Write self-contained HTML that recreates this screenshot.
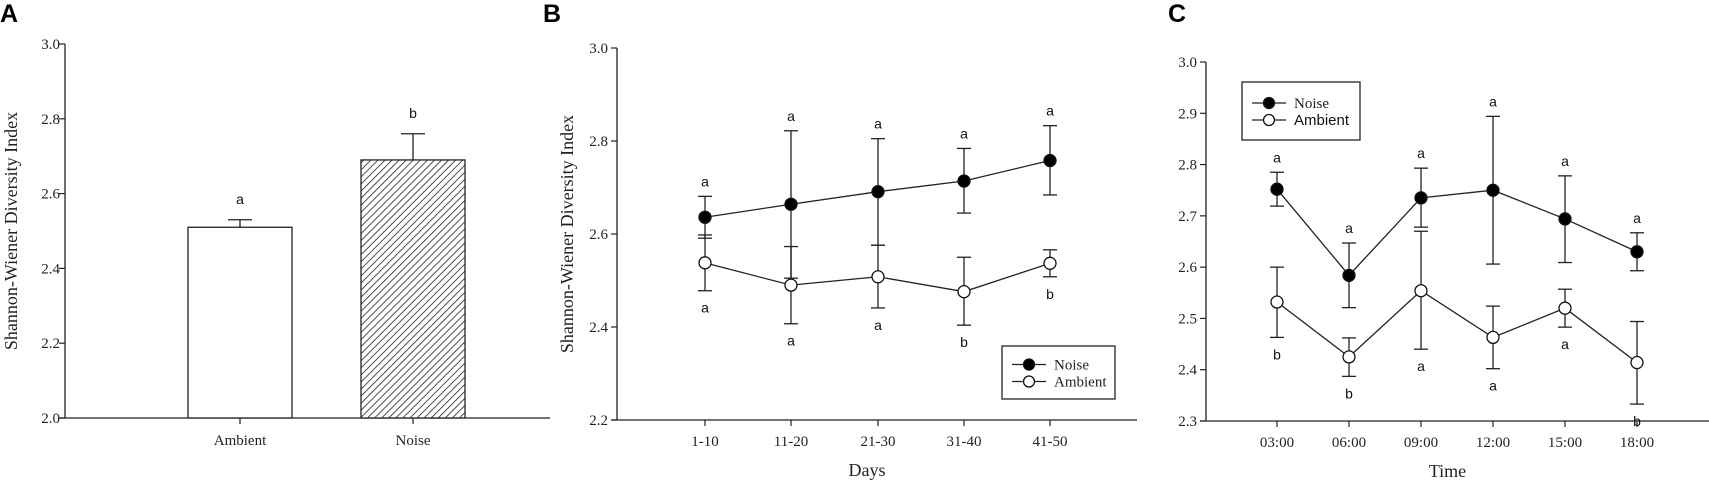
<!DOCTYPE html>
<html><head><meta charset="utf-8">
<style>
html,body{margin:0;padding:0;background:#fff;}
svg{display:block;}
.tk{font-family:"Liberation Serif",serif;font-size:15px;fill:#222;}
.tt{font-family:"Liberation Serif",serif;font-size:18px;fill:#222;}
.lt{font-family:"Liberation Sans",sans-serif;font-size:14px;fill:#111;}
.pl{font-family:"Liberation Sans",sans-serif;font-size:25px;font-weight:bold;fill:#000;}
</style></head>
<body>
<svg id="fig" width="1709" height="484" viewBox="0 0 1709 484" xmlns="http://www.w3.org/2000/svg">
<defs>
<pattern id="hatch" patternUnits="userSpaceOnUse" width="5" height="5" patternTransform="rotate(45)">
<rect width="5" height="5" fill="#fff"/><line x1="0" y1="0" x2="0" y2="5" stroke="#222" stroke-width="1.6"/>
</pattern>
</defs>
</svg>
<script>
// Panel A
const aCats = ["Ambient","Noise"];
const aVals = [2.51, 2.69];
const aErr = [2.53, 2.76];
const aLetters = ["a","b"];
const aTicks = ["2.0","2.2","2.4","2.6","2.8","3.0"];
// Panel B
const bCats = ["1-10","11-20","21-30","31-40","41-50"];
const bNoise = [2.636, 2.664, 2.691, 2.714, 2.758];
const bNoiseLo = [2.591, 2.505, 2.576, 2.645, 2.684];
const bNoiseHi = [2.681, 2.822, 2.805, 2.784, 2.833];
const bAmb = [2.538, 2.490, 2.508, 2.476, 2.537];
const bAmbLo = [2.478, 2.407, 2.441, 2.404, 2.508];
const bAmbHi = [2.598, 2.573, 2.576, 2.550, 2.566];
const bNoiseLet = ["a","a","a","a","a"];
const bAmbLet = ["a","a","a","b","b"];
const bTicks = ["2.2","2.4","2.6","2.8","3.0"];
// Panel C
const cCats = ["03:00","06:00","09:00","12:00","15:00","18:00"];
const cNoise = [2.752, 2.584, 2.735, 2.750, 2.694, 2.630];
const cNoiseLo = [2.719, 2.521, 2.678, 2.606, 2.609, 2.593];
const cNoiseHi = [2.785, 2.647, 2.793, 2.894, 2.778, 2.667];
const cAmb = [2.532, 2.425, 2.554, 2.463, 2.520, 2.414];
const cAmbLo = [2.463, 2.387, 2.440, 2.402, 2.483, 2.333];
const cAmbHi = [2.600, 2.462, 2.670, 2.524, 2.557, 2.494];
const cNoiseLet = ["a","a","a","a","a","a"];
const cAmbLet = ["b","b","a","a","a","b"];
const cTicks = ["2.3","2.4","2.5","2.6","2.7","2.8","2.9","3.0"];

const svg = document.getElementById('fig');
const NS = "http://www.w3.org/2000/svg";
function mk(tag, attrs, parent){ const e=document.createElementNS(NS,tag); for(const k in attrs) e.setAttribute(k,attrs[k]); (parent||svg).appendChild(e); return e; }
function txt(x,y,s,cls,anchor,parent){ const t=mk('text',{x:x,y:y,class:cls,'text-anchor':anchor||'middle'},parent); t.textContent=s; return t; }

function yAxis(g, ax, y, ticks, labelRight){
  const l=mk('line',{x1:ax,y1:y(+ticks[ticks.length-1]),x2:ax,y2:y(+ticks[0]),stroke:'#222','stroke-width':1.3},g);
  
  
  ticks.forEach(t=>{
    mk('line',{x1:ax-6,y1:y(+t),x2:ax,y2:y(+t),stroke:'#222','stroke-width':1.2},g);
    const tl=txt(labelRight,y(+t)+5,t,'tk','end',g);
    
    
  });
}
function errBar(g,x,lo,hi,w){
  mk('line',{x1:x,y1:lo,x2:x,y2:hi,stroke:'#222','stroke-width':1.3},g);
  mk('line',{x1:x-w,y1:lo,x2:x+w,y2:lo,stroke:'#222','stroke-width':1.3},g);
  mk('line',{x1:x-w,y1:hi,x2:x+w,y2:hi,stroke:'#222','stroke-width':1.3},g);
}

// ---------- Panel A ----------
{
  const g=mk('g',{});
  
  
  const ax=65, y0=418, y1=44;
  const y=v=>y0-(v-2.0)/(3.0-2.0)*(y0-y1);
  const xs=[240,413];
  const pl=txt(0,22,'A','pl','start',g);
  
  
  yAxis(g,ax,y,aTicks,60);
  const xa=mk('line',{x1:60,y1:y0,x2:550,y2:y0,stroke:'#222','stroke-width':1.3},g);
  
  
  aCats.forEach((c,i)=>{
    const b=mk('rect',{x:xs[i]-52,y:y(aVals[i]),width:104,height:y0-y(aVals[i]),fill:i?'url(#hatch)':'#fff',stroke:'#222','stroke-width':1.3},g);
    
    
    mk('line',{x1:xs[i],y1:y(aVals[i]),x2:xs[i],y2:y(aErr[i]),stroke:'#222','stroke-width':1.3},g);
    mk('line',{x1:xs[i]-12,y1:y(aErr[i]),x2:xs[i]+12,y2:y(aErr[i]),stroke:'#222','stroke-width':1.3},g);
    const lt=txt(xs[i],y(aErr[i])-16,aLetters[i],'lt','middle',g);
    
    
    mk('line',{x1:xs[i],y1:y0,x2:xs[i],y2:y0+6,stroke:'#222','stroke-width':1.2},g);
    const tl=txt(xs[i],445,c,'tk','middle',g);
    
    
  });
  const yt=txt(0,0,'Shannon-Wiener Diversity Index','tt','middle',g);
  yt.setAttribute('transform','translate(17,231) rotate(-90)');
  
  
}

function linePanel(opts){
  const {name,label,labelX,ax,axEnd,y0,y1,ymin,ymax,xs,cats,ticks,noise,nLo,nHi,amb,aLo,aHi,nLet,aLet,xTitle,legend,ytitleX,ytitleY}=opts;
  const g=mk('g',{});
  
  
  const y=v=>y0-(v-ymin)/(ymax-ymin)*(y0-y1);
  const pl=txt(labelX,22,label,'pl','start',g);
  
  
  yAxis(g,ax,y,ticks,ax-9);
  const xa=mk('line',{x1:ax-6,y1:y0,x2:axEnd,y2:y0,stroke:'#222','stroke-width':1.3},g);
  
  
  cats.forEach((c,i)=>{
    mk('line',{x1:xs[i],y1:y0,x2:xs[i],y2:y0+6,stroke:'#222','stroke-width':1.2},g);
    const tl=txt(xs[i],y0+26,c,'tk','middle',g);
    
    
  });
  // error bars
  cats.forEach((c,i)=>{ errBar(g,xs[i],y(nLo[i]),y(nHi[i]),7); errBar(g,xs[i],y(aLo[i]),y(aHi[i]),7); });
  const series=[[noise,'#000','noise-line'],[amb,'#fff','ambient-line']];
  series.forEach(([vals,fill,nm])=>{
    const p=mk('polyline',{points:vals.map((v,i)=>xs[i]+','+y(v)).join(' '),fill:'none',stroke:'#222','stroke-width':1.3},g);
    
    
  });
  series.forEach(([vals,fill,nm])=>{
    vals.forEach((v,i)=>{
      const c=mk('circle',{cx:xs[i],cy:y(v),r:6,fill:fill,stroke:'#111','stroke-width':1.3},g);
      
      
    });
  });
  cats.forEach((c,i)=>{
    const t1=txt(xs[i],y(nHi[i])-10,nLet[i],'lt','middle',g);
    
    
    const t2=txt(xs[i],y(aLo[i])+22,aLet[i],'lt','middle',g);
    
    
  });
  const xt=txt((ax+axEnd)/2-10,y0+56,xTitle,'tt','middle',g);
  
  
  if(ytitleX){
    const yt=txt(0,0,'Shannon-Wiener Diversity Index','tt','middle',g);
    yt.setAttribute('transform','translate('+ytitleX+','+ytitleY+') rotate(-90)');
    
    
  }
  // legend
  const [lx,ly,lw,lh,order]=legend;
  const lg=mk('g',{},g);
  
  
  mk('rect',{x:lx,y:ly,width:lw,height:lh,fill:'#fff',stroke:'#222','stroke-width':1.3},lg);
  [['Noise','#000'],['Ambient','#fff']].forEach(([n,f],k)=>{
    const yy=ly+lh/2+(k?9:-8);
    mk('line',{x1:lx+10,y1:yy,x2:lx+44,y2:yy,stroke:'#222','stroke-width':1.3},lg);
    mk('circle',{cx:lx+27,cy:yy,r:5.5,fill:f,stroke:'#111','stroke-width':1.3},lg);
    const t=txt(lx+52,yy+5,n,(order&&k==1)?'lt':'tk','start',lg);
    if(order&&k==1) t.setAttribute('style','font-size:15px');
    
    
  });
}

linePanel({name:'b',label:'B',labelX:543,ax:617,axEnd:1137,y0:420,y1:48,ymin:2.2,ymax:3.0,
  xs:[705,791,878,964,1050],cats:bCats,ticks:bTicks,noise:bNoise,nLo:bNoiseLo,nHi:bNoiseHi,
  amb:bAmb,aLo:bAmbLo,aHi:bAmbHi,nLet:bNoiseLet,aLet:bAmbLet,xTitle:'Days',
  legend:[1002,346,113,53,false],ytitleX:573,ytitleY:234});

linePanel({name:'c',label:'C',labelX:1168,ax:1206,axEnd:1709,y0:421,y1:62,ymin:2.3,ymax:3.0,
  xs:[1277,1349,1421,1493,1565,1637],cats:cCats,ticks:cTicks,noise:cNoise,nLo:cNoiseLo,nHi:cNoiseHi,
  amb:cAmb,aLo:cAmbLo,aHi:cAmbHi,nLet:cNoiseLet,aLet:cAmbLet,xTitle:'Time',
  legend:[1242,82,118,58,true]});
</script>
</body></html>
